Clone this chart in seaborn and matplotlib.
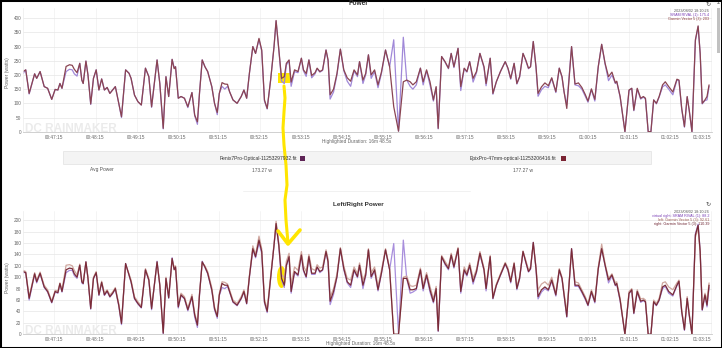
import matplotlib
matplotlib.use("Agg")
import matplotlib.pyplot as plt
import seaborn as sns
from matplotlib.patches import Rectangle, Ellipse, Polygon
from matplotlib.lines import Line2D
from matplotlib.ticker import FuncFormatter

# ---------------- data (clock seconds, watts) ----------------
time_s = [2789, 2793, 2798, 2806, 2809, 2814, 2820, 2825, 2831, 2836,
          2840, 2843, 2846, 2852, 2857, 2861, 2864, 2868, 2872, 2875,
          2877, 2881, 2884, 2888, 2892, 2896, 2900, 2904, 2908, 2912,
          2916, 2920, 2924, 2929, 2933, 2939, 2944, 2947, 2952, 2957,
          2962, 2968, 2973, 2977, 2985, 2989, 2994, 2998, 3002, 3007,
          3010, 3012, 3016, 3020, 3025, 3030, 3036, 3040, 3044, 3047,
          3051, 3055, 3059, 3065, 3069, 3073, 3076, 3080, 3084, 3088,
          3091, 3096, 3102, 3108, 3112, 3116, 3120,
          3125, 3129, 3134, 3138, 3142, 3146, 3151, 3156, 3159, 3163,
          3167, 3171, 3174, 3178, 3181, 3186, 3191, 3196, 3199, 3203,
          3207, 3211, 3216, 3219, 3223, 3227, 3232, 3235, 3238, 3243,
          3248, 3253, 3258, 3263, 3268, 3273, 3278, 3281, 3286, 3290,
          3294, 3298, 3303, 3308, 3313, 3319, 3325, 3331, 3338, 3345,
          3350, 3355, 3359, 3364, 3370, 3374, 3379, 3384, 3389, 3393,
          3396, 3401, 3406, 3411, 3415, 3419, 3425, 3429, 3434, 3438,
          3442, 3447, 3452,
          3457, 3463, 3466, 3472, 3476, 3481, 3487, 3494, 3498, 3502,
          3507, 3511, 3515, 3520, 3524, 3528, 3531, 3535, 3539, 3542,
          3547, 3552, 3557, 3562, 3568, 3573, 3577, 3580, 3584, 3591,
          3596, 3601, 3606, 3611, 3615, 3620, 3625, 3630, 3635, 3640,
          3645, 3650, 3655, 3657, 3662, 3669, 3675, 3679, 3682, 3687,
          3692, 3696, 3699, 3703, 3707, 3711, 3715, 3719, 3724, 3728,
          3733, 3739, 3745, 3748, 3752, 3756, 3760, 3763, 3767, 3772,
          3776, 3779, 3782, 3786, 3789, 3792]

power_vector = [212, 218, 135, 204, 188, 212, 159, 153, 114, 149,
                147, 170, 153, 230, 236, 234, 220, 208, 241, 182,
                170, 249, 200, 98, 188, 218, 147, 186, 147, 156,
                135, 147, 159, 100, 53, 218, 206, 188, 129, 106,
                94, 224, 194, 88, 253, 170, 12, 194, 124, 255,
                222, 229, 118, 124, 118, 88, 138, 59, 35, 135,
                253, 229, 212, 159, 100, 68, 135, 173, 168, 167,
                141, 112, 100, 124, 147, 118, 206,
                300, 276, 329, 288, 112, 82, 182, 300, 392, 288,
                188, 194, 241, 253, 175, 218, 212, 259, 218, 205,
                253, 198, 208, 224, 212, 218, 288, 253, 130, 150,
                205, 291, 218, 190, 178, 218, 200, 247, 182, 205,
                271, 200, 218, 165, 210, 288, 229, 88, 2, 176,
                182, 176, 165, 176, 224, 176, 218, 176, 112, 159,
                12, 265, 247, 224, 276, 229, 294, 159, 224, 212,
                247, 188, 212,
                276, 229, 170, 259, 135, 176, 212, 247, 224, 188,
                241, 170, 194, 276, 253, 224, 229, 318, 229, 135,
                158, 172, 162, 190, 141, 224, 194, 141, 82, 300,
                168, 172, 156, 131, 108, 151, 114, 229, 308, 241,
                194, 210, 172, 178, 124, 0, 147, 153, 76, 153,
                118, 124, 118, 0, 0, 112, 100, 124, 165, 176,
                159, 140, 185, 182, 82, 18, 124, 76, 0, 324,
                373, 276, 100, 112, 124, 165]

power_rival = [205, 218, 133, 204, 188, 212, 159, 153, 114, 149,
               147, 170, 153, 212, 220, 218, 204, 196, 241, 182,
               170, 249, 200, 96, 188, 218, 147, 186, 147, 156,
               135, 147, 159, 100, 50, 218, 206, 188, 129, 106,
               94, 224, 194, 86, 253, 170, 10, 194, 124, 255,
               226, 229, 118, 124, 118, 85, 138, 56, 26, 135,
               253, 229, 212, 159, 100, 60, 135, 160, 150, 160,
               141, 112, 100, 124, 147, 118, 206,
               300, 276, 325, 285, 108, 80, 182, 300, 390, 288,
               178, 170, 235, 250, 160, 212, 208, 259, 215, 195,
               253, 190, 204, 222, 210, 216, 288, 250, 115, 140,
               200, 291, 215, 178, 160, 214, 194, 247, 170, 200,
               271, 188, 212, 155, 205, 288, 229, 324, 2, 333,
               182, 160, 150, 165, 224, 165, 215, 165, 108, 155,
               10, 265, 245, 222, 276, 226, 294, 145, 222, 210,
               247, 175, 208,
               276, 225, 162, 259, 132, 176, 212, 247, 222, 185,
               241, 168, 192, 276, 250, 222, 229, 318, 226, 125,
               148, 160, 155, 188, 138, 224, 192, 140, 95, 300,
               165, 162, 150, 125, 104, 148, 108, 229, 308, 238,
               180, 200, 170, 176, 122, 0, 145, 153, 74, 150,
               115, 122, 115, 0, 0, 112, 98, 122, 158, 165,
               150, 130, 182, 180, 80, 16, 122, 74, 0, 320,
               370, 276, 98, 110, 112, 160]

lr_right = [110, 108, 63, 106, 92, 107, 83, 75, 56, 75,
            73, 89, 75, 113, 116, 115, 106, 100, 121, 92,
            89, 127, 98, 45, 98, 108, 69, 91, 69, 76,
            66, 72, 80, 51, 19, 124, 104, 92, 63, 54,
            47, 113, 95, 45, 127, 86, 2, 98, 64, 133,
            113, 118, 48, 69, 63, 43, 66, 34, 16, 69,
            127, 118, 107, 78, 45, 31, 69, 89, 86, 86,
            75, 57, 51, 63, 75, 54, 101,
            150, 136, 165, 145, 57, 40, 98, 156, 194, 156,
            98, 86, 121, 136, 75, 110, 104, 139, 113, 101,
            136, 107, 107, 118, 110, 113, 145, 127, 58, 75,
            101, 150, 115, 92, 86, 113, 101, 121, 86, 104,
            148, 101, 113, 78, 107, 148, 113, 0, 0, 98,
            98, 78, 78, 80, 113, 80, 104, 78, 57, 80,
            6, 136, 124, 115, 139, 118, 150, 75, 113, 104,
            121, 92, 110,
            142, 113, 80, 136, 63, 86, 104, 124, 113, 92,
            124, 80, 98, 145, 127, 110, 115, 161, 115, 66,
            78, 83, 78, 95, 69, 113, 98, 69, 31, 150,
            86, 86, 75, 63, 51, 75, 57, 115, 150, 121,
            95, 104, 86, 89, 60, 0, 72, 78, 37, 75,
            58, 60, 57, 0, 0, 57, 51, 60, 83, 86,
            75, 69, 86, 93, 40, 8, 63, 34, 0, 174,
            191, 145, 43, 69, 51, 86]

lr_left = [112, 110, 66, 108, 95, 109, 86, 78, 58, 77,
           76, 90, 78, 121, 122, 120, 112, 104, 123, 95,
           90, 126, 100, 47, 100, 110, 72, 93, 72, 78,
           69, 74, 82, 54, 22, 122, 106, 95, 66, 57,
           50, 115, 98, 48, 125, 88, 4, 100, 67, 130,
           118, 120, 52, 72, 66, 46, 70, 37, 20, 72,
           125, 120, 110, 82, 48, 34, 72, 92, 91, 88,
           78, 60, 54, 66, 78, 57, 103,
           155, 140, 172, 150, 62, 44, 102, 158, 198, 160,
           105, 98, 128, 142, 88, 118, 112, 145, 120, 110,
           140, 115, 112, 122, 116, 118, 148, 132, 65, 80,
           106, 152, 120, 98, 95, 118, 106, 125, 95, 108,
           150, 108, 118, 84, 112, 150, 116, 0, 0, 100,
           102, 85, 84, 86, 116, 86, 108, 84, 62, 84,
           10, 138, 128, 118, 142, 122, 152, 80, 118, 108,
           125, 98, 114,
           145, 116, 84, 138, 66, 88, 106, 126, 116, 95,
           126, 84, 100, 146, 130, 113, 118, 158, 118, 78,
           88, 92, 86, 100, 72, 115, 100, 72, 40, 146,
           92, 90, 78, 66, 54, 78, 60, 118, 158, 124,
           98, 106, 90, 92, 63, 0, 75, 80, 40, 78,
           62, 63, 60, 0, 0, 60, 54, 63, 90, 92,
           83, 78, 90, 95, 43, 10, 66, 37, 0, 170,
           185, 142, 46, 72, 60, 90]

lr_virtual_right = [108, 108, 60, 105, 90, 106, 82, 74, 55, 74,
                    72, 88, 74, 108, 112, 112, 103, 98, 121, 90,
                    88, 127, 97, 44, 97, 108, 68, 90, 68, 75,
                    65, 71, 79, 50, 17, 124, 103, 91, 62, 53,
                    46, 113, 94, 43, 128, 85, 1, 98, 63, 134,
                    114, 117, 46, 68, 62, 41, 65, 30, 12, 68,
                    128, 117, 106, 77, 43, 28, 68, 82, 80, 84,
                    74, 56, 50, 62, 74, 53, 100,
                    148, 134, 160, 142, 55, 38, 97, 155, 192, 154,
                    95, 82, 119, 134, 72, 108, 102, 138, 111, 99,
                    135, 105, 105, 117, 108, 112, 145, 125, 52, 70,
                    100, 150, 113, 90, 82, 111, 99, 121, 80, 102,
                    148, 98, 111, 76, 106, 148, 113, 159, 0, 165,
                    98, 72, 74, 78, 113, 76, 102, 74, 55, 78,
                    5, 136, 122, 113, 139, 116, 150, 72, 111, 102,
                    120, 88, 108,
                    140, 112, 76, 135, 62, 85, 103, 123, 112, 90,
                    123, 78, 97, 145, 126, 109, 114, 161, 114, 62,
                    74, 80, 76, 93, 67, 112, 97, 68, 30, 150,
                    84, 84, 73, 61, 50, 73, 55, 114, 150, 120,
                    90, 102, 85, 88, 58, 0, 71, 77, 36, 74,
                    56, 59, 56, 0, 0, 56, 50, 59, 80, 84,
                    72, 67, 85, 92, 39, 7, 62, 33, 0, 176,
                    193, 146, 42, 68, 48, 82]

tick_seconds = [2835, 2895, 2955, 3015, 3075, 3135, 3195, 3255, 3315,
                3375, 3435, 3495, 3555, 3615, 3675, 3735, 3795]
power_yticks = [0, 50, 100, 150, 200, 250, 300, 350, 400]
lr_yticks = [0, 20, 40, 60, 80, 100, 120, 140, 160, 180, 200]

file_names = ["Fenix7Pro-Optical-11253297932.fit", "EpixPro-47mm-optical-11253206416.fit"]
avg_power = ["173.27 w", "177.27 w"]

# ---------------- figure ----------------
sns.set_theme(style="white")
plt.rcParams['font.family'] = ['Liberation Sans', 'DejaVu Sans']

W, H = 722, 348
fig = plt.figure(figsize=(W / 100, H / 100), dpi=100)
fig.patch.set_facecolor('white')


def fx(px):
    return px / W


def fy(py):
    return 1 - py / H


def hms(v, pos=None):
    v = int(round(v))
    return f"{v // 3600:02d}:{(v % 3600) // 60:02d}:{v % 60:02d}"


XMIN, XMAX = 2789, 3796
AX_L, AX_R = 23, 711.8
GRAY = '#666666'


def make_axes(top_px, bot_px, ymax, yticks):
    ax = fig.add_axes([fx(AX_L), fy(bot_px), (AX_R - AX_L) / W, (bot_px - top_px) / H])
    ax.set_facecolor('none')
    ax.set_xlim(XMIN, XMAX)
    ax.set_ylim(0, ymax)
    ax.set_xticks(tick_seconds)
    ax.xaxis.set_major_formatter(FuncFormatter(hms))
    ax.set_yticks(yticks)
    ax.grid(True, axis='y', color='#e6e6e6', lw=0.5)
    ax.grid(True, axis='x', color='#f0f0f0', lw=0.5)
    ax.set_axisbelow(True)
    for s in ['top', 'right']:
        ax.spines[s].set_visible(False)
    ax.spines['left'].set_color('#ececec')
    ax.spines['left'].set_linewidth(0.5)
    ax.spines['bottom'].set_color('#c9c9c9')
    ax.spines['bottom'].set_linewidth(0.6)
    ax.tick_params(axis='both', length=0, labelsize=3.4, colors=GRAY)
    ax.tick_params(axis='x', pad=2.2)
    ax.tick_params(axis='y', pad=1.2)
    ax.set_xlabel('')
    ax.set_ylabel('')
    return ax


# ---- top: Power ----
ax1 = make_axes(8.3, 131.7, 435, power_yticks)
sns.lineplot(x=time_s, y=power_rival, ax=ax1, color='#a088d8', lw=0.9,
             legend=False, estimator=None, sort=False)
sns.lineplot(x=time_s, y=power_vector, ax=ax1, color='#8a4452', lw=0.9,
             legend=False, estimator=None, sort=False)

# ---- bottom: Left/Right Power ----
ax2 = make_axes(211, 334.3, 216, lr_yticks)
sns.lineplot(x=time_s, y=lr_virtual_right, ax=ax2, color='#a88edc', lw=0.9,
             legend=False, estimator=None, sort=False)
sns.lineplot(x=time_s, y=lr_left, ax=ax2, color='#cfa79f', lw=0.9,
             legend=False, estimator=None, sort=False)
sns.lineplot(x=time_s, y=lr_right, ax=ax2, color='#7a2b38', lw=0.9,
             legend=False, estimator=None, sort=False)

for ax in (ax1, ax2):
    ax.set_xlabel('')
    ax.set_ylabel('')

# watermarks
for ax, ybase in ((ax1, 132), (ax2, 333.5)):
    ax.text(fx(25), fy(ybase), "DC RAINMAKER", transform=fig.transFigure,
            fontsize=8.5, fontweight='bold', color='#ebebeb',
            family=['Liberation Sans Narrow', 'Liberation Sans', 'DejaVu Sans'],
            ha='left', va='baseline', zorder=0.6, clip_on=False)

# y labels
fig.text(fx(7.5), fy(73), "Power (watts)", rotation=90, ha='center', va='center',
         fontsize=3.6, color=GRAY)
fig.text(fx(7.5), fy(278), "Power (watts)", rotation=90, ha='center', va='center',
         fontsize=3.6, color=GRAY)

# titles / captions
fig.text(fx(358), fy(3.2), "Power", ha='center', va='center', fontsize=4.8,
         fontweight='bold', color='#333333')
fig.text(fx(358), fy(204.5), "Left/Right Power", ha='center', va='center', fontsize=4.6,
         fontweight='bold', color='#333333')
fig.text(fx(357), fy(142), "Highlighted Duration: 16m 48.5s", ha='center', va='center',
         fontsize=3.4, color=GRAY)
fig.text(fx(361), fy(343.5), "Highlighted Duration: 16m 48.5s", ha='center', va='center',
         fontsize=3.4, color=GRAY)

# hover legends
leg_top = [("2023/08/02 18:10:26", '#555555'),
           ("SRAM RIVAL (1): 175.4", '#7a3fb5'),
           ("Garmin Vector 5 (3): 203", '#8b3b3b')]
for i, (t, c) in enumerate(leg_top):
    fig.text(fx(709), fy(11 + 4 * i), t, ha='right', va='center', fontsize=2.7, color=c)
leg_bot = [("2023/08/02 18:10:26", '#555555'),
           ("virtual right: SRAM RIVAL (1): 88.2", '#7a3fb5'),
           ("left: Garmin Vector 5 (3): 92.61", '#9a5c52'),
           ("right: Garmin Vector 5 (3): 110.39", '#6e2431')]
for i, (t, c) in enumerate(leg_bot):
    fig.text(fx(709), fy(212.3 + 3.9 * i), t, ha='right', va='center', fontsize=2.7, color=c)
fig.text(fx(708), fy(4), "↻", ha='center', va='center', fontsize=4.5, color='#555555',
         family=['DejaVu Sans'])
fig.text(fx(708), fy(204), "↻", ha='center', va='center', fontsize=4.5, color='#555555',
         family=['DejaVu Sans'])

# summary table
fig.add_artist(Rectangle((fx(63), fy(164.5)), (651 - 63) / W, 13.5 / H,
                         transform=fig.transFigure, facecolor='#f4f4f4',
                         edgecolor='#e2e2e2', lw=0.5))
fig.text(fx(258.5), fy(158), file_names[0], ha='center', va='center', fontsize=3.6,
         color='#333333')
fig.text(fx(513), fy(158), file_names[1], ha='center', va='center', fontsize=3.6,
         color='#333333')
fig.add_artist(Rectangle((fx(300), fy(161)), 5 / W, 5 / H, transform=fig.transFigure,
                         facecolor='#5e2456', edgecolor='none'))
fig.add_artist(Rectangle((fx(560.5), fy(161)), 5 / W, 5 / H, transform=fig.transFigure,
                         facecolor='#7a2332', edgecolor='none'))
fig.text(fx(102), fy(170), "Avg Power", ha='center', va='center', fontsize=3.5, color='#555555')
fig.text(fx(262), fy(170), avg_power[0], ha='center', va='center', fontsize=3.5, color='#555555')
fig.text(fx(523), fy(170), avg_power[1], ha='center', va='center', fontsize=3.5, color='#555555')
fig.add_artist(Line2D([fx(243), fx(470)], [fy(191), fy(191)], transform=fig.transFigure,
                      color='#efefef', lw=0.6))

# yellow annotation (highlighter marks and arrow)
YEL = '#ffe500'
ax1.add_patch(Rectangle((fx(277.7), fy(83.3)), 12.3 / W, 10.6 / H, transform=fig.transFigure,
                        facecolor=YEL, edgecolor='none', zorder=1.5, clip_on=False))
ax2.add_patch(Ellipse((fx(281.5), fy(277)), 9 / W, 22 / H, transform=fig.transFigure,
                      facecolor=YEL, edgecolor='none', zorder=1.5, clip_on=False))
path_px = [(284, 86), (285, 98), (284, 112), (283, 128), (284, 145), (286, 165),
           (287, 185), (285, 200), (286, 220), (288, 243)]
fig.add_artist(Line2D([fx(p[0]) for p in path_px], [fy(p[1]) for p in path_px],
                      transform=fig.transFigure, color=YEL, lw=2.2, solid_capstyle='round'))
head_px = [(278, 231), (288, 244), (300, 230)]
fig.add_artist(Line2D([fx(p[0]) for p in head_px], [fy(p[1]) for p in head_px],
                      transform=fig.transFigure, color=YEL, lw=2.6, solid_capstyle='round',
                      solid_joinstyle='round'))

# scrollbar + frame
fig.add_artist(Rectangle((fx(716.5), fy(53)), 3.5 / W, 45 / H, transform=fig.transFigure,
                         facecolor='#c1c1c1', edgecolor='none'))
fig.add_artist(Polygon([(fx(717), fy(4)), (fx(720), fy(4)), (fx(718.5), fy(1.8))],
                       closed=True, transform=fig.transFigure, facecolor='#888888',
                       edgecolor='none'))
fig.add_artist(Rectangle((0, 0), 1, 1, transform=fig.transFigure, fill=False,
                         edgecolor='black', lw=2.2))

fig.canvas.draw()
for ax in (ax1, ax2):
    ax.xaxis.get_major_ticks()[-1].label1.set_horizontalalignment('right')

fig.savefig("out.png", dpi=100, facecolor='white')
